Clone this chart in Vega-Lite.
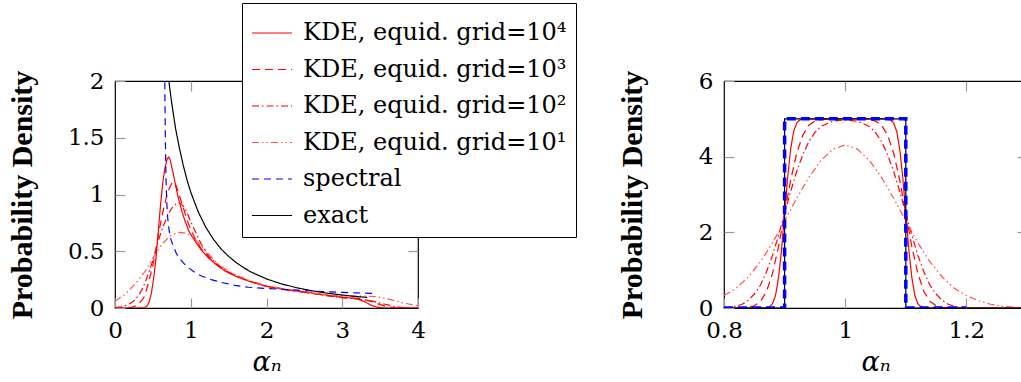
{
  "$schema": "https://vega.github.io/schema/vega-lite/v6.json",
  "padding": {"left": 6, "top": 2, "right": 0, "bottom": 0},
  "bounds": "flush",
  "spacing": 306,
  "config": {
    "view": {"stroke": "black", "strokeWidth": 1.2},
    "axis": {
      "domain": false, "grid": false, "ticks": true, "tickColor": "#999999", "tickSize": -10, "tickWidth": 1.2,
      "labelFont": "DejaVu Serif", "labelFontSize": 23, "labelColor": "black", "labelPadding": 21, "labelFlush": false,
      "titleFont": "Liberation Serif", "titleFontSize": 30, "titleColor": "black"
    },
    "legend": {
      "orient": "none", "legendX": 127, "legendY": -78,
      "strokeColor": "black", "fillColor": "white", "padding": 9,
      "symbolType": "stroke", "symbolSize": 1600, "symbolStrokeWidth": 1.2,
      "labelFont": "DejaVu Serif", "labelFontSize": 24, "labelLimit": 0, "labelOffset": 10, "labelColor": "black",
      "rowPadding": 3.5
    }
  },
  "datasets": {
    "left": [
      {"s":"k4","x":0,"y":0},{"s":"k4","x":0.3,"y":0},{"s":"k4","x":0.38,"y":0.002},{"s":"k4","x":0.42,"y":0.015},{"s":"k4","x":0.45,"y":0.05},{"s":"k4","x":0.48,"y":0.13},{"s":"k4","x":0.51,"y":0.26},{"s":"k4","x":0.54,"y":0.43},{"s":"k4","x":0.57,"y":0.66},{"s":"k4","x":0.6,"y":0.9},{"s":"k4","x":0.63,"y":1.1},{"s":"k4","x":0.66,"y":1.24},{"s":"k4","x":0.69,"y":1.315},{"s":"k4","x":0.71,"y":1.33},{"s":"k4","x":0.73,"y":1.3},{"s":"k4","x":0.77,"y":1.18},{"s":"k4","x":0.8,"y":1.08},{"s":"k4","x":0.836,"y":0.97},{"s":"k4","x":0.88,"y":0.86},{"s":"k4","x":0.924,"y":0.766},{"s":"k4","x":0.98,"y":0.67},{"s":"k4","x":1.056,"y":0.59},{"s":"k4","x":1.14,"y":0.51},{"s":"k4","x":1.232,"y":0.443},{"s":"k4","x":1.34,"y":0.38},{"s":"k4","x":1.45,"y":0.326},{"s":"k4","x":1.6,"y":0.278},{"s":"k4","x":1.76,"y":0.238},{"s":"k4","x":1.98,"y":0.194},{"s":"k4","x":2.25,"y":0.163},{"s":"k4","x":2.5,"y":0.142},{"s":"k4","x":2.75,"y":0.118},{"s":"k4","x":3.0,"y":0.095},{"s":"k4","x":3.1,"y":0.09},{"s":"k4","x":3.2,"y":0.08},{"s":"k4","x":3.3,"y":0.055},{"s":"k4","x":3.38,"y":0.025},{"s":"k4","x":3.45,"y":0.008},{"s":"k4","x":3.55,"y":0},{"s":"k4","x":4,"y":0},
      {"s":"k3","x":0,"y":0},{"s":"k3","x":0.15,"y":0},{"s":"k3","x":0.22,"y":0.005},{"s":"k3","x":0.28,"y":0.02},{"s":"k3","x":0.33,"y":0.05},{"s":"k3","x":0.38,"y":0.09},{"s":"k3","x":0.42,"y":0.17},{"s":"k3","x":0.46,"y":0.27},{"s":"k3","x":0.5,"y":0.38},{"s":"k3","x":0.53,"y":0.47},{"s":"k3","x":0.56,"y":0.6},{"s":"k3","x":0.6,"y":0.74},{"s":"k3","x":0.64,"y":0.87},{"s":"k3","x":0.68,"y":0.98},{"s":"k3","x":0.72,"y":1.06},{"s":"k3","x":0.76,"y":1.11},{"s":"k3","x":0.79,"y":1.11},{"s":"k3","x":0.83,"y":1.03},{"s":"k3","x":0.88,"y":0.93},{"s":"k3","x":0.93,"y":0.82},{"s":"k3","x":0.97,"y":0.74},{"s":"k3","x":1.05,"y":0.62},{"s":"k3","x":1.14,"y":0.52},{"s":"k3","x":1.232,"y":0.448},{"s":"k3","x":1.34,"y":0.385},{"s":"k3","x":1.45,"y":0.33},{"s":"k3","x":1.6,"y":0.28},{"s":"k3","x":1.76,"y":0.24},{"s":"k3","x":1.98,"y":0.195},{"s":"k3","x":2.25,"y":0.163},{"s":"k3","x":2.5,"y":0.14},{"s":"k3","x":2.75,"y":0.115},{"s":"k3","x":3.0,"y":0.093},{"s":"k3","x":3.2,"y":0.085},{"s":"k3","x":3.35,"y":0.065},{"s":"k3","x":3.5,"y":0.03},{"s":"k3","x":3.6,"y":0.01},{"s":"k3","x":3.7,"y":0},{"s":"k3","x":4,"y":0},
      {"s":"k2","x":0,"y":0.003},{"s":"k2","x":0.08,"y":0.01},{"s":"k2","x":0.15,"y":0.025},{"s":"k2","x":0.2,"y":0.04},{"s":"k2","x":0.264,"y":0.07},{"s":"k2","x":0.32,"y":0.12},{"s":"k2","x":0.37,"y":0.18},{"s":"k2","x":0.44,"y":0.3},{"s":"k2","x":0.5,"y":0.42},{"s":"k2","x":0.57,"y":0.59},{"s":"k2","x":0.63,"y":0.71},{"s":"k2","x":0.7,"y":0.825},{"s":"k2","x":0.77,"y":0.9},{"s":"k2","x":0.84,"y":0.93},{"s":"k2","x":0.9,"y":0.9},{"s":"k2","x":0.95,"y":0.84},{"s":"k2","x":1.0,"y":0.76},{"s":"k2","x":1.056,"y":0.68},{"s":"k2","x":1.14,"y":0.56},{"s":"k2","x":1.232,"y":0.46},{"s":"k2","x":1.34,"y":0.39},{"s":"k2","x":1.45,"y":0.335},{"s":"k2","x":1.6,"y":0.282},{"s":"k2","x":1.76,"y":0.24},{"s":"k2","x":1.98,"y":0.195},{"s":"k2","x":2.25,"y":0.16},{"s":"k2","x":2.5,"y":0.137},{"s":"k2","x":2.75,"y":0.113},{"s":"k2","x":3.0,"y":0.09},{"s":"k2","x":3.2,"y":0.08},{"s":"k2","x":3.4,"y":0.06},{"s":"k2","x":3.55,"y":0.035},{"s":"k2","x":3.7,"y":0.012},{"s":"k2","x":3.8,"y":0.003},{"s":"k2","x":4,"y":0},
      {"s":"k1","x":0,"y":0.06},{"s":"k1","x":0.13,"y":0.12},{"s":"k1","x":0.264,"y":0.21},{"s":"k1","x":0.4,"y":0.326},{"s":"k1","x":0.528,"y":0.47},{"s":"k1","x":0.6,"y":0.54},{"s":"k1","x":0.66,"y":0.59},{"s":"k1","x":0.72,"y":0.63},{"s":"k1","x":0.79,"y":0.655},{"s":"k1","x":0.86,"y":0.667},{"s":"k1","x":0.93,"y":0.66},{"s":"k1","x":1.01,"y":0.634},{"s":"k1","x":1.08,"y":0.59},{"s":"k1","x":1.144,"y":0.546},{"s":"k1","x":1.23,"y":0.48},{"s":"k1","x":1.32,"y":0.414},{"s":"k1","x":1.45,"y":0.345},{"s":"k1","x":1.6,"y":0.29},{"s":"k1","x":1.76,"y":0.245},{"s":"k1","x":1.98,"y":0.2},{"s":"k1","x":2.25,"y":0.165},{"s":"k1","x":2.5,"y":0.14},{"s":"k1","x":2.75,"y":0.12},{"s":"k1","x":3.0,"y":0.105},{"s":"k1","x":3.3,"y":0.105},{"s":"k1","x":3.45,"y":0.1},{"s":"k1","x":3.6,"y":0.08},{"s":"k1","x":3.8,"y":0.045},{"s":"k1","x":4,"y":0.02},
      {"s":"spec","x":0.655,"y":2.2},{"s":"spec","x":0.66,"y":1.8},{"s":"spec","x":0.666,"y":1.45},{"s":"spec","x":0.673,"y":1.15},{"s":"spec","x":0.682,"y":0.95},{"s":"spec","x":0.695,"y":0.8},{"s":"spec","x":0.715,"y":0.68},{"s":"spec","x":0.74,"y":0.6},{"s":"spec","x":0.77,"y":0.545},{"s":"spec","x":0.81,"y":0.48},{"s":"spec","x":0.86,"y":0.43},{"s":"spec","x":0.92,"y":0.385},{"s":"spec","x":0.97,"y":0.355},{"s":"spec","x":1.05,"y":0.315},{"s":"spec","x":1.14,"y":0.282},{"s":"spec","x":1.27,"y":0.25},{"s":"spec","x":1.41,"y":0.225},{"s":"spec","x":1.58,"y":0.2},{"s":"spec","x":1.76,"y":0.183},{"s":"spec","x":2.0,"y":0.172},{"s":"spec","x":2.25,"y":0.163},{"s":"spec","x":2.5,"y":0.153},{"s":"spec","x":2.75,"y":0.145},{"s":"spec","x":3.0,"y":0.138},{"s":"spec","x":3.2,"y":0.133},{"s":"spec","x":3.45,"y":0.128},
      {"s":"exact","x":0.7,"y":2.1},{"s":"exact","x":0.72,"y":1.95},{"s":"exact","x":0.75,"y":1.8},{"s":"exact","x":0.8,"y":1.58},{"s":"exact","x":0.85,"y":1.41},{"s":"exact","x":0.9,"y":1.26},{"s":"exact","x":0.95,"y":1.13},{"s":"exact","x":1.0,"y":1.02},{"s":"exact","x":1.1,"y":0.845},{"s":"exact","x":1.2,"y":0.71},{"s":"exact","x":1.3,"y":0.605},{"s":"exact","x":1.4,"y":0.52},{"s":"exact","x":1.5,"y":0.455},{"s":"exact","x":1.6,"y":0.4},{"s":"exact","x":1.7,"y":0.355},{"s":"exact","x":1.8,"y":0.316},{"s":"exact","x":2.0,"y":0.256},{"s":"exact","x":2.2,"y":0.212},{"s":"exact","x":2.4,"y":0.178},{"s":"exact","x":2.6,"y":0.152},{"s":"exact","x":2.8,"y":0.131},{"s":"exact","x":3.0,"y":0.114},{"s":"exact","x":3.2,"y":0.1},{"s":"exact","x":3.33,"y":0.093}
    ],
    "right": [
      {"s":"k4","x":0.8,"y":0},{"s":"k4","x":0.86,"y":0},{"s":"k4","x":0.87,"y":0.007},{"s":"k4","x":0.875,"y":0.03},{"s":"k4","x":0.88,"y":0.11},{"s":"k4","x":0.885,"y":0.33},{"s":"k4","x":0.89,"y":0.8},{"s":"k4","x":0.895,"y":1.55},{"s":"k4","x":0.9,"y":2.5},{"s":"k4","x":0.905,"y":3.45},{"s":"k4","x":0.91,"y":4.2},{"s":"k4","x":0.915,"y":4.67},{"s":"k4","x":0.92,"y":4.89},{"s":"k4","x":0.925,"y":4.97},{"s":"k4","x":0.93,"y":4.99},{"s":"k4","x":0.94,"y":5},{"s":"k4","x":1.0,"y":5},{"s":"k4","x":1.06,"y":5},{"s":"k4","x":1.07,"y":4.99},{"s":"k4","x":1.075,"y":4.97},{"s":"k4","x":1.08,"y":4.89},{"s":"k4","x":1.085,"y":4.67},{"s":"k4","x":1.09,"y":4.2},{"s":"k4","x":1.095,"y":3.45},{"s":"k4","x":1.1,"y":2.5},{"s":"k4","x":1.105,"y":1.55},{"s":"k4","x":1.11,"y":0.8},{"s":"k4","x":1.115,"y":0.33},{"s":"k4","x":1.12,"y":0.11},{"s":"k4","x":1.125,"y":0.03},{"s":"k4","x":1.13,"y":0.007},{"s":"k4","x":1.14,"y":0},{"s":"k4","x":1.3,"y":0},
      {"s":"k3","x":0.8,"y":0},{"s":"k3","x":0.82,"y":0},{"s":"k3","x":0.83,"y":0.004},{"s":"k3","x":0.84,"y":0.016},{"s":"k3","x":0.85,"y":0.06},{"s":"k3","x":0.86,"y":0.17},{"s":"k3","x":0.87,"y":0.43},{"s":"k3","x":0.88,"y":0.91},{"s":"k3","x":0.89,"y":1.62},{"s":"k3","x":0.9,"y":2.5},{"s":"k3","x":0.91,"y":3.38},{"s":"k3","x":0.92,"y":4.09},{"s":"k3","x":0.93,"y":4.57},{"s":"k3","x":0.94,"y":4.83},{"s":"k3","x":0.95,"y":4.94},{"s":"k3","x":0.96,"y":4.98},{"s":"k3","x":0.98,"y":5},{"s":"k3","x":1.0,"y":5},{"s":"k3","x":1.02,"y":5},{"s":"k3","x":1.04,"y":4.98},{"s":"k3","x":1.05,"y":4.94},{"s":"k3","x":1.06,"y":4.83},{"s":"k3","x":1.07,"y":4.57},{"s":"k3","x":1.08,"y":4.09},{"s":"k3","x":1.09,"y":3.38},{"s":"k3","x":1.1,"y":2.5},{"s":"k3","x":1.11,"y":1.62},{"s":"k3","x":1.12,"y":0.91},{"s":"k3","x":1.13,"y":0.43},{"s":"k3","x":1.14,"y":0.17},{"s":"k3","x":1.15,"y":0.06},{"s":"k3","x":1.16,"y":0.016},{"s":"k3","x":1.17,"y":0.004},{"s":"k3","x":1.18,"y":0},{"s":"k3","x":1.3,"y":0},
      {"s":"k2","x":0.8,"y":0.008},{"s":"k2","x":0.81,"y":0.02},{"s":"k2","x":0.82,"y":0.047},{"s":"k2","x":0.83,"y":0.1},{"s":"k2","x":0.84,"y":0.2},{"s":"k2","x":0.85,"y":0.37},{"s":"k2","x":0.86,"y":0.6},{"s":"k2","x":0.87,"y":0.95},{"s":"k2","x":0.88,"y":1.39},{"s":"k2","x":0.89,"y":1.92},{"s":"k2","x":0.9,"y":2.5},{"s":"k2","x":0.91,"y":3.08},{"s":"k2","x":0.92,"y":3.61},{"s":"k2","x":0.93,"y":4.05},{"s":"k2","x":0.94,"y":4.4},{"s":"k2","x":0.95,"y":4.64},{"s":"k2","x":0.96,"y":4.8},{"s":"k2","x":0.98,"y":4.94},{"s":"k2","x":1.0,"y":4.97},{"s":"k2","x":1.02,"y":4.94},{"s":"k2","x":1.04,"y":4.8},{"s":"k2","x":1.05,"y":4.64},{"s":"k2","x":1.06,"y":4.4},{"s":"k2","x":1.07,"y":4.05},{"s":"k2","x":1.08,"y":3.61},{"s":"k2","x":1.09,"y":3.08},{"s":"k2","x":1.1,"y":2.5},{"s":"k2","x":1.11,"y":1.92},{"s":"k2","x":1.12,"y":1.39},{"s":"k2","x":1.13,"y":0.95},{"s":"k2","x":1.14,"y":0.6},{"s":"k2","x":1.15,"y":0.37},{"s":"k2","x":1.16,"y":0.2},{"s":"k2","x":1.17,"y":0.1},{"s":"k2","x":1.18,"y":0.047},{"s":"k2","x":1.19,"y":0.02},{"s":"k2","x":1.2,"y":0.008},{"s":"k2","x":1.22,"y":0},{"s":"k2","x":1.3,"y":0},
      {"s":"k1","x":0.8,"y":0.33},{"s":"k1","x":0.82,"y":0.52},{"s":"k1","x":0.84,"y":0.82},{"s":"k1","x":0.86,"y":1.22},{"s":"k1","x":0.88,"y":1.72},{"s":"k1","x":0.9,"y":2.3},{"s":"k1","x":0.92,"y":2.9},{"s":"k1","x":0.94,"y":3.45},{"s":"k1","x":0.96,"y":3.9},{"s":"k1","x":0.98,"y":4.2},{"s":"k1","x":1.0,"y":4.31},{"s":"k1","x":1.02,"y":4.2},{"s":"k1","x":1.04,"y":3.9},{"s":"k1","x":1.06,"y":3.45},{"s":"k1","x":1.08,"y":2.9},{"s":"k1","x":1.1,"y":2.3},{"s":"k1","x":1.12,"y":1.72},{"s":"k1","x":1.14,"y":1.22},{"s":"k1","x":1.16,"y":0.82},{"s":"k1","x":1.18,"y":0.52},{"s":"k1","x":1.2,"y":0.33},{"s":"k1","x":1.22,"y":0.19},{"s":"k1","x":1.24,"y":0.1},{"s":"k1","x":1.26,"y":0.045},{"s":"k1","x":1.28,"y":0.018},{"s":"k1","x":1.3,"y":0.006},
      {"s":"spec","x":0.8,"y":0},{"s":"spec","x":0.9,"y":0},{"s":"spec","x":0.9,"y":5},{"s":"spec","x":1.1,"y":5},{"s":"spec","x":1.1,"y":0},{"s":"spec","x":1.2,"y":0},
      {"s":"exact","x":0.8,"y":0},{"s":"exact","x":0.9,"y":0},{"s":"exact","x":0.9,"y":5},{"s":"exact","x":1.1,"y":5},{"s":"exact","x":1.1,"y":0},{"s":"exact","x":1.3,"y":0}
    ]
  },
  "hconcat": [
    {
      "width": 303, "height": 227,
      "data": {"name": "left"},
      "layer": [
        {
          "mark": {"type": "line", "clip": true, "strokeWidth": 1.2},
          "encoding": {
            "x": {"field": "x", "type": "quantitative", "scale": {"domain": [0, 4], "nice": false, "zero": false},
                  "axis": {"orient": "bottom", "values": [0, 1, 2, 3, 4], "format": "~g", "title": "αₙ", "titleFont": "DejaVu Serif", "titleFontStyle": "italic", "titleFontWeight": "normal", "titleFontSize": 27, "titlePadding": 7}},
            "y": {"field": "y", "type": "quantitative", "scale": {"domain": [0, 2], "nice": false},
                  "axis": {"orient": "left", "values": [0, 0.5, 1, 1.5, 2], "format": "~g", "title": "Probability Density", "titleFontWeight": "bold", "titlePadding": 30}},
            "color": {"field": "s", "type": "nominal",
                      "scale": {"domain": ["k4", "k3", "k2", "k1", "spec", "exact"], "range": ["#ff0000", "#ff0000", "#ff0000", "#ff5050", "#0000ff", "#000000"]},
                      "legend": {"title": null, "labelExpr": "{'k4': 'KDE, equid. grid=10⁴', 'k3': 'KDE, equid. grid=10³', 'k2': 'KDE, equid. grid=10²', 'k1': 'KDE, equid. grid=10¹', 'spec': 'spectral', 'exact': 'exact'}[datum.label]"}},
            "strokeDash": {"field": "s", "type": "nominal",
                      "scale": {"domain": ["k4", "k3", "k2", "k1", "spec", "exact"], "range": [[1, 0], [8, 5], [7, 3, 1.5, 3], [7, 3, 1.5, 3, 1.5, 3], [7, 5], [1, 0]]},
                      "legend": {"title": null, "labelExpr": "{'k4': 'KDE, equid. grid=10⁴', 'k3': 'KDE, equid. grid=10³', 'k2': 'KDE, equid. grid=10²', 'k1': 'KDE, equid. grid=10¹', 'spec': 'spectral', 'exact': 'exact'}[datum.label]"}},
            "order": {"value": null}
          }
        },
        {
          "mark": {"type": "line", "opacity": 0},
          "encoding": {
            "x": {"field": "x", "type": "quantitative", "axis": {"orient": "top", "values": [1, 2, 3], "labels": false, "title": null}},
            "y": {"field": "y", "type": "quantitative", "axis": {"orient": "right", "values": [0.5, 1, 1.5], "labels": false, "title": null}}
          }
        }
      ],
      "resolve": {"axis": {"x": "independent", "y": "independent"}}
    },
    {
      "width": 303, "height": 227,
      "data": {"name": "right"},
      "layer": [
        {
          "transform": [{"filter": "datum.s != 'spec'"}],
          "mark": {"type": "line", "clip": true, "strokeWidth": 1.2},
          "encoding": {
            "x": {"field": "x", "type": "quantitative", "scale": {"domain": [0.8, 1.3], "nice": false, "zero": false},
                  "axis": {"orient": "bottom", "values": [0.8, 1, 1.2], "format": "~g", "title": "αₙ", "titleFont": "DejaVu Serif", "titleFontStyle": "italic", "titleFontWeight": "normal", "titleFontSize": 27, "titlePadding": 7}},
            "y": {"field": "y", "type": "quantitative", "scale": {"domain": [0, 6], "nice": false},
                  "axis": {"orient": "left", "values": [0, 2, 4, 6], "format": "~g", "title": "Probability Density", "titleFontWeight": "bold", "titlePadding": 51}},
            "color": {"field": "s", "type": "nominal",
                      "scale": {"domain": ["k4", "k3", "k2", "k1", "spec", "exact"], "range": ["#ff0000", "#ff0000", "#ff0000", "#ff5050", "#0000ff", "#000000"]},
                      "legend": {"title": null, "labelExpr": "{'k4': 'KDE, equid. grid=10⁴', 'k3': 'KDE, equid. grid=10³', 'k2': 'KDE, equid. grid=10²', 'k1': 'KDE, equid. grid=10¹', 'spec': 'spectral', 'exact': 'exact'}[datum.label]"}},
            "strokeDash": {"field": "s", "type": "nominal",
                      "scale": {"domain": ["k4", "k3", "k2", "k1", "spec", "exact"], "range": [[1, 0], [8, 5], [7, 3, 1.5, 3], [7, 3, 1.5, 3, 1.5, 3], [7, 5], [1, 0]]},
                      "legend": {"title": null, "labelExpr": "{'k4': 'KDE, equid. grid=10⁴', 'k3': 'KDE, equid. grid=10³', 'k2': 'KDE, equid. grid=10²', 'k1': 'KDE, equid. grid=10¹', 'spec': 'spectral', 'exact': 'exact'}[datum.label]"}},
            "order": {"value": null}
          }
        },
        {
          "transform": [{"filter": "datum.s == 'spec'"}],
          "mark": {"type": "line", "clip": true, "strokeWidth": 3.5, "color": "#0000ff", "strokeDash": [9, 5]},
          "encoding": {
            "x": {"field": "x", "type": "quantitative", "axis": null},
            "y": {"field": "y", "type": "quantitative", "axis": null},
            "order": {"value": null}
          }
        },
        {
          "mark": {"type": "line", "opacity": 0},
          "encoding": {
            "x": {"field": "x", "type": "quantitative", "axis": {"orient": "top", "values": [1, 1.2], "labels": false, "title": null}},
            "y": {"field": "y", "type": "quantitative", "axis": {"orient": "right", "values": [2, 4], "labels": false, "title": null}}
          }
        }
      ],
      "resolve": {"axis": {"x": "independent", "y": "independent"}}
    }
  ]
}
